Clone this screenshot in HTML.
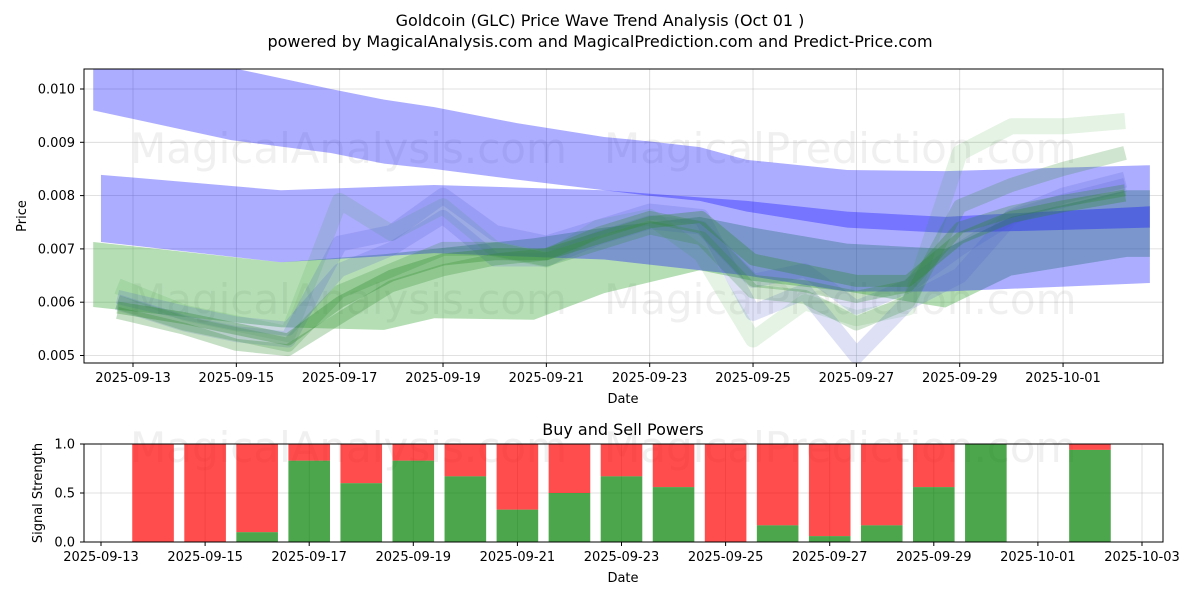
<!DOCTYPE html>
<html><head><meta charset="utf-8"><style>
body{margin:0;background:#fff;font-family:"Liberation Sans","DejaVu Sans",sans-serif}
svg text{font-family:"DejaVu Sans","Liberation Sans",sans-serif}
</style></head><body>
<svg id="c" width="1200" height="600" xmlns="http://www.w3.org/2000/svg"></svg>
<script>
// ---- data ----
const topYTicks=[0.005,0.006,0.007,0.008,0.009,0.010];
const topYLabels=["0.005","0.006","0.007","0.008","0.009","0.010"];
const topXTickDays=[0,2,4,6,8,10,12,14,16,18];
const topXLabels=["2025-09-13","2025-09-15","2025-09-17","2025-09-19","2025-09-21","2025-09-23","2025-09-25","2025-09-27","2025-09-29","2025-10-01"];
const band1Days=[-0.77,1.9,3.83,4.86,5.83,7.43,9.12,9.97,10.97,11.88,13.82,15.72,19.68];
const band1Upper=[0.0104,0.0104,0.0100,0.0098,0.00966,0.00936,0.0091,0.00902,0.00891,0.00867,0.00848,0.00846,0.00857];
const band1Lower=[0.0096,0.00904,0.0088,0.0086,0.0085,0.0083,0.0081,0.0080,0.0079,0.0077,0.0074,0.0073,0.0074];
const band2Days=[-0.62,2.86,5.83,9.12,11.88,13.82,15.72,19.68];
const band2Upper=[0.00839,0.0081,0.0082,0.0081,0.0079,0.0077,0.0076,0.0078];
const band2Lower=[0.00713,0.00675,0.00692,0.0068,0.0065,0.0062,0.0062,0.00636];
const gbandDays=[-0.77,2.86,4.86,5.83,7.76,9.12,10.97,12,13.82,15.72,17,19.24,19.68];
const gbandUpper=[0.00713,0.00675,0.0069,0.0070,0.0072,0.0074,0.0076,0.0074,0.0071,0.0070,0.0076,0.0081,0.0081];
const gbandLower=[0.00591,0.00553,0.00548,0.0057,0.00567,0.00617,0.0066,0.0064,0.0062,0.0059,0.0065,0.00685,0.00685];
const waveDays=[-0.3,1,2,3,4,5,6,7,8,9,10,11,12,13,14,15,16,17,18,19.2];
const greenWave1=[0.0059,0.0057,0.0055,0.0053,0.0060,0.0065,0.0068,0.0069,0.0069,0.0072,0.0075,0.0076,0.0068,0.0066,0.0064,0.0064,0.0072,0.0076,0.0078,0.0080];
const greenWave2=[0.0063,0.0058,0.0056,0.0054,0.0079,0.0073,0.0078,0.0070,0.0068,0.0074,0.0076,0.0069,0.0053,0.0060,0.0057,0.0059,0.0088,0.0093,0.0093,0.0094];
const greenWave3=[0.0058,0.0055,0.0052,0.0051,0.0057,0.0063,0.0066,0.0068,0.0069,0.0073,0.0076,0.0074,0.0064,0.0063,0.0061,0.0063,0.0074,0.0077,0.0079,0.0081];
const greenWave4=[0.0060,0.0056,0.0054,0.0052,0.0062,0.0066,0.0070,0.0070,0.0068,0.0071,0.0074,0.0072,0.0062,0.0061,0.0056,0.0060,0.0078,0.0082,0.0085,0.0088];
const blueWave1=[0.0060,0.0056,0.0054,0.0053,0.0071,0.0073,0.0080,0.0073,0.0071,0.0074,0.0077,0.0076,0.0058,0.0062,0.0050,0.0060,0.0065,0.0076,0.0080,0.0083];
const blueWave2=[0.0061,0.0058,0.0056,0.0055,0.0066,0.0070,0.0076,0.0068,0.0068,0.0072,0.0075,0.0074,0.0064,0.0066,0.0059,0.0063,0.0070,0.0076,0.0079,0.0082];
const barDays=[1,2,3,4,5,6,7,8,9,10,11,12,13,14,15,16,17,19];
const buyValues=[0,0,0.1,0.83,0.6,0.83,0.67,0.33,0.5,0.67,0.56,0,0.17,0.06,0.17,0.56,1.0,0.94];
const botXTickDays=[0,2,4,6,8,10,12,14,16,18,20];
const botXLabels=["2025-09-13","2025-09-15","2025-09-17","2025-09-19","2025-09-21","2025-09-23","2025-09-25","2025-09-27","2025-09-29","2025-10-01","2025-10-03"];
const botYTicks=[0,0.5,1.0];
const botYLabels=["0.0","0.5","1.0"];

// ---- axes ----
const NS="http://www.w3.org/2000/svg";
const svg=document.getElementById('c');
const T={l:84,r:1163,t:69,b:363};
const B={l:84,r:1163,t:444,b:542};
const tx=d=>133+d*51.67;
const ty=p=>89+(0.010-p)*53300;
const bx=d=>101+d*52.05;
const by=v=>542-v*98;
function el(tag,attrs,parent){const e=document.createElementNS(NS,tag);for(const k in attrs)e.setAttribute(k,attrs[k]);(parent||svg).appendChild(e);return e;}
function txt(s,x,y,attrs){const e=el('text',Object.assign({x:x,y:y,'font-size':13,fill:'#000'},attrs||{}));e.textContent=s;return e;}

const defs=el('defs',{});
const cp=el('clipPath',{id:'cpt'},defs);el('rect',{x:T.l,y:T.t,width:T.r-T.l,height:T.b-T.t},cp);

topYTicks.forEach(v=>{const g=el('line',{x1:T.l,x2:T.r,y1:ty(v),y2:ty(v),stroke:'#b0b0b0','stroke-width':0.8,'stroke-opacity':0.5});
});
topXTickDays.forEach(d=>{const g=el('line',{x1:tx(d),x2:tx(d),y1:T.t,y2:T.b,stroke:'#b0b0b0','stroke-width':0.8,'stroke-opacity':0.5});
});

function wm(s,x,y,name){const e=txt(s,x,y,{'font-size':42,fill:'#808080','fill-opacity':0.12});}
wm('MagicalAnalysis.com',130,163,'watermark');wm('MagicalPrediction.com',604,163,'watermark');
wm('MagicalAnalysis.com',130,314,'watermark');wm('MagicalPrediction.com',604,314,'watermark');

const plot=el('g',{'clip-path':'url(#cpt)'});

function band(days,up,lo,color,op,name){
  let pts=days.map((d,i)=>tx(d)+','+ty(up[i]));
  for(let i=days.length-1;i>=0;i--)pts.push(tx(days[i])+','+ty(lo[i]));
  const p=el('polygon',{points:pts.join(' '),fill:color,'fill-opacity':op},plot);
  
}
function wave(vals,color,op,w,name){
  const p=el('polyline',{points:waveDays.map((d,i)=>tx(d)+','+ty(vals[i])).join(' '),fill:'none',stroke:color,'stroke-opacity':op,'stroke-width':w,'stroke-linejoin':'round','stroke-linecap':'butt'},plot);
  
}
band(gbandDays,gbandUpper,gbandLower,'#2ca02c',0.35,'green-band');
band(band1Days,band1Upper,band1Lower,'#0000ff',0.32,'blue-band-upper');
band(band2Days,band2Upper,band2Lower,'#0000ff',0.32,'blue-band-lower');
wave(greenWave2,'#2ca02c',0.13,16,'green-wave');
wave(blueWave1,'#4a5acf',0.18,16,'blue-wave');
wave(blueWave2,'#4a5acf',0.18,14,'blue-wave');
wave(greenWave4,'#2a8a2a',0.22,14,'green-wave');
wave(greenWave3,'#2a8a2a',0.27,12,'green-wave');
wave(greenWave1,'#2a8a2a',0.32,12,'green-wave');

const f1=el('rect',{x:T.l,y:T.t,width:T.r-T.l,height:T.b-T.t,fill:'none',stroke:'#000','stroke-width':1});

topYTicks.forEach((v,i)=>{el('line',{x1:T.l-4,x2:T.l,y1:ty(v),y2:ty(v),stroke:'#000'});
const t=txt(topYLabels[i],75,ty(v)+4.5,{'text-anchor':'end'});});
topXTickDays.forEach((d,i)=>{el('line',{x1:tx(d),x2:tx(d),y1:T.b,y2:T.b+4,stroke:'#000'});
const t=txt(topXLabels[i],tx(d),T.b+19,{'text-anchor':'middle'});});

wm('MagicalAnalysis.com',130,462,'watermark');wm('MagicalPrediction.com',604,462,'watermark');
botYTicks.forEach(v=>{el('line',{x1:B.l,x2:B.r,y1:by(v),y2:by(v),stroke:'#b0b0b0','stroke-width':0.8,'stroke-opacity':0.5});});
botXTickDays.forEach(d=>{el('line',{x1:bx(d),x2:bx(d),y1:B.t,y2:B.b,stroke:'#b0b0b0','stroke-width':0.8,'stroke-opacity':0.5});});
barDays.forEach((d,i)=>{
  const x=bx(d)-20.8,w=41.6,g=buyValues[i];
  const r=el('rect',{x:x,y:by(1),width:w,height:by(g)-by(1),fill:'#ff0000','fill-opacity':0.7});
  
  const gr=el('rect',{x:x,y:by(g),width:w,height:by(0)-by(g),fill:'#008000','fill-opacity':0.7});
  
});
const f2=el('rect',{x:B.l,y:B.t,width:B.r-B.l,height:B.b-B.t,fill:'none',stroke:'#000','stroke-width':1});

botYTicks.forEach((v,i)=>{el('line',{x1:B.l-4,x2:B.l,y1:by(v),y2:by(v),stroke:'#000'});
const t=txt(botYLabels[i],75,by(v)+4.5,{'text-anchor':'end'});});
botXTickDays.forEach((d,i)=>{el('line',{x1:bx(d),x2:bx(d),y1:B.b,y2:B.b+4,stroke:'#000'});
const t=txt(botXLabels[i],bx(d),B.b+19,{'text-anchor':'middle'});});

function lab(s,x,y,size,name,rot){const a={'text-anchor':'middle','font-size':size};if(rot)a.transform='rotate(-90 '+x+' '+y+')';const t=txt(s,x,y,a);}
lab('Goldcoin (GLC) Price Wave Trend Analysis (Oct 01 )',600,26,16,'chart-title');
lab('powered by MagicalAnalysis.com and MagicalPrediction.com and Predict-Price.com',600,47,16,'chart-subtitle');
lab('Date',623,403,13,'x-axis-title');
lab('Price',26,216,13,'y-axis-title',true);
lab('Buy and Sell Powers',623,435,16,'signal-title');
lab('Date',623,582,13,'x-axis-title');
lab('Signal Strength',42,493,13,'y-axis-title',true);
</script>
</body></html>
